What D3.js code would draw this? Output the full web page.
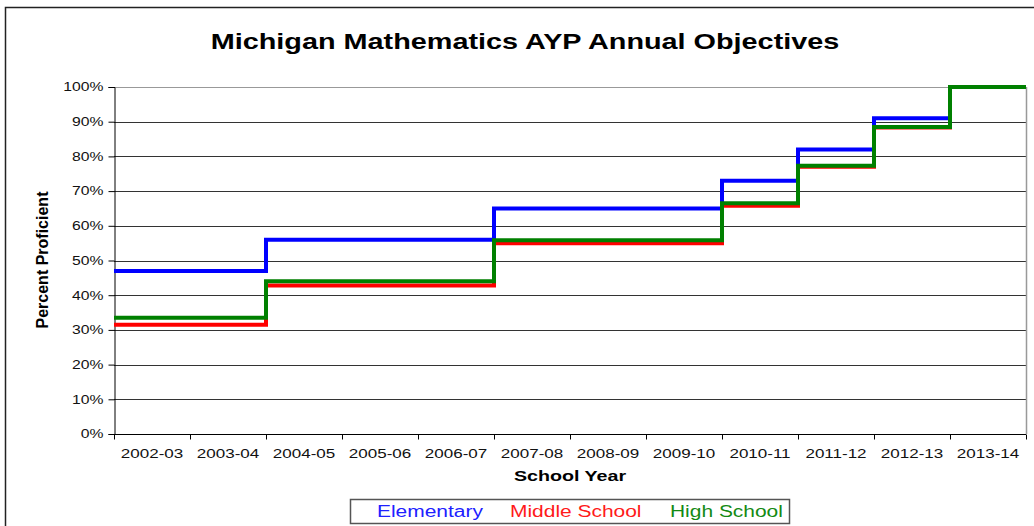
<!DOCTYPE html>
<html>
<head>
<meta charset="utf-8">
<script src="https://cdn.jsdelivr.net/npm/d3@7"></script>
<style>
  body { margin: 0; background: #fff; }
  svg { display: block; font-family: "Liberation Sans", Arial, sans-serif; }
</style>
</head>
<body>
<svg id="chart" width="1034" height="526"></svg>
<script>
// school years on the x axis
var years = ["2002-03", "2003-04", "2004-05", "2005-06", "2006-07", "2007-08",
             "2008-09", "2009-10", "2010-11", "2011-12", "2012-13", "2013-14"];

// percent proficient targets, one value per year
var elementary   = [47, 47, 56, 56, 56, 65, 65, 65, 73, 82, 91, 100];
var middleSchool = [31.5, 31.5, 42.8, 42.8, 42.8, 55, 55, 55, 65.8, 77, 88.3, 100];
var highSchool   = [33.5, 33.5, 44, 44, 44, 55.8, 55.8, 55.8, 66.5, 77.3, 88.5, 100];

var yTicks = [0, 10, 20, 30, 40, 50, 60, 70, 80, 90, 100];

var series = [
  {name: "Elementary",    values: elementary,   color: "#0000ff", text: "#2020ff"},
  {name: "Middle School", values: middleSchool, color: "#ff0000", text: "#ff1a1a"},
  {name: "High School",   values: highSchool,   color: "#008000", text: "#138a13"}
];

var margin = {top: 87, right: 8, bottom: 92, left: 114},
    width = 1034 - margin.left - margin.right,
    height = 526 - margin.top - margin.bottom;

// the original text is a bit wider than Arial, stretch it horizontally
var sx = 1.31;
function place(x, y) { return "translate(" + x + "," + y + ") scale(" + sx + ",1)"; }

var svg = d3.select("#chart");

// outer chart frame
svg.append("rect")
    .attr("x", 5.5).attr("y", 7.5)
    .attr("width", 1040).attr("height", 540)
    .attr("fill", "none")
    .attr("stroke", "#222")
    .attr("stroke-width", 1.5);

var g = svg.append("g")
    .attr("transform", "translate(" + margin.left + "," + margin.top + ")");

var x = d3.scaleBand().domain(years).range([0, width]);
var y = d3.scaleLinear().domain([0, 100]).range([height, 0]);

// horizontal grid lines
g.selectAll(".grid")
    .data(yTicks.slice(1))
  .enter().append("line")
    .attr("x1", 0).attr("x2", width)
    .attr("y1", function(d) { return Math.round(y(d)) + 0.5; })
    .attr("y2", function(d) { return Math.round(y(d)) + 0.5; })
    .attr("stroke", function(d) { return d === 100 ? "#999" : "#333"; })
    .attr("stroke-width", 1);

// right edge of plot area
g.append("line")
    .attr("x1", width + 0.5).attr("x2", width + 0.5)
    .attr("y1", 0).attr("y2", height)
    .attr("stroke", "#999").attr("stroke-width", 1.5);

// y axis
var yAxis = g.append("g")
    .attr("transform", "translate(0.5,0)")
    .call(d3.axisLeft(y).tickValues(yTicks).tickSize(6).tickPadding(5)
      .tickFormat(function(d) { return d + "%"; }));
yAxis.select(".domain").attr("stroke", "#000");
yAxis.selectAll("line").attr("stroke", "#000");
yAxis.selectAll("text")
    .attr("x", null)
    .attr("transform", place(-11, 0))
    .attr("font-size", 12).attr("fill", "#111")
    .attr("font-family", "'Liberation Sans', Arial, sans-serif");

// x axis: ticks on band boundaries, labels centred in band
var xAxis = g.append("g").attr("transform", "translate(0," + (height + 0.5) + ")");
xAxis.append("line")
    .attr("x1", 0).attr("x2", width)
    .attr("stroke", "#000");
xAxis.selectAll(".tk")
    .data(years.concat(["end"]))
  .enter().append("line")
    .attr("x1", function(d, i) { return Math.round(i * x.bandwidth()) + 0.5; })
    .attr("x2", function(d, i) { return Math.round(i * x.bandwidth()) + 0.5; })
    .attr("y1", 0).attr("y2", 5)
    .attr("stroke", "#000");
xAxis.selectAll(".lbl")
    .data(years)
  .enter().append("text")
    .attr("transform", function(d) { return place(x(d) + x.bandwidth() / 2, 23); })
    .attr("text-anchor", "middle")
    .attr("font-size", 13)
    .attr("fill", "#111")
    .text(function(d) { return d; });

// step lines
var line = d3.line()
    .curve(d3.curveStepAfter)
    .x(function(d) { return d[0]; })
    .y(function(d) { return y(d[1]); });

series.forEach(function(s) {
  var pts = s.values.map(function(v, i) { return [x(years[i]), v]; });
  pts.push([width, s.values[s.values.length - 1]]);
  g.append("path")
      .datum(pts)
      .attr("fill", "none")
      .attr("stroke", s.color)
      .attr("stroke-width", 4)
      .attr("d", line);
});

// title
svg.append("text")
    .attr("transform", place(525, 49))
    .attr("text-anchor", "middle")
    .attr("font-size", 22).attr("font-weight", "bold")
    .attr("fill", "#000")
    .text("Michigan Mathematics AYP Annual Objectives");

// axis titles
svg.append("text")
    .attr("transform", "translate(48,260) rotate(-90)")
    .attr("text-anchor", "middle")
    .attr("font-size", 16).attr("font-weight", "bold")
    .attr("font-family", "'Liberation Sans Narrow', 'Arial Narrow', 'Liberation Sans', sans-serif")
    .attr("fill", "#000")
    .text("Percent Proficient");

svg.append("text")
    .attr("transform", place(570, 481))
    .attr("text-anchor", "middle")
    .attr("font-size", 15).attr("font-weight", "bold")
    .attr("fill", "#000")
    .text("School Year");

// legend
svg.append("rect")
    .attr("x", 350.5).attr("y", 499.5)
    .attr("width", 439).attr("height", 24)
    .attr("fill", "#fff")
    .attr("stroke", "#555").attr("stroke-width", 1.5);

var legendX = [377, 510, 670];
svg.selectAll(".leg")
    .data(series)
  .enter().append("text")
    .attr("transform", function(d, i) { return place(legendX[i], 517); })
    .attr("font-size", 16)
    .attr("fill", function(d) { return d.text; })
    .text(function(d) { return d.name; });
</script>
</body>
</html>
